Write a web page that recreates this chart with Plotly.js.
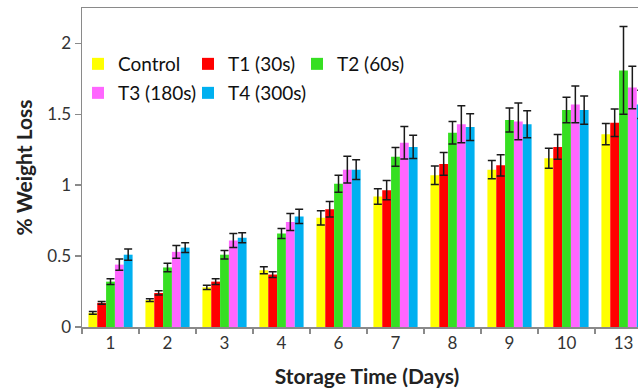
<!DOCTYPE html>
<html>
<head>
<meta charset="utf-8">
<script src="https://cdn.plot.ly/plotly-3.0.1.min.js"></script>
<style>
html, body { margin: 0; padding: 0; overflow: hidden; background: #fff; width: 638px; height: 390px; }
#chart { width: 652px; height: 390px; }
</style>
</head>
<body>
<div id="chart"></div>
<script>
// Categories (storage days)
var days = ['1', '2', '3', '4', '6', '7', '8', '9', '10', '13'];

// Series names
var seriesNames = ['Control', 'T1 (30s)', 'T2 (60s)', 'T3 (180s)', 'T4 (300s)'];

// % weight loss values
var control = [0.10, 0.19, 0.28, 0.40, 0.77, 0.92, 1.07, 1.11, 1.19, 1.36];
var t1      = [0.17, 0.24, 0.32, 0.37, 0.83, 0.965, 1.15, 1.14, 1.27, 1.44];
var t2      = [0.32, 0.42, 0.51, 0.66, 1.01, 1.20, 1.37, 1.46, 1.53, 1.81];
var t3      = [0.44, 0.53, 0.61, 0.74, 1.11, 1.30, 1.43, 1.45, 1.57, 1.69];
var t4      = [0.51, 0.56, 0.63, 0.78, 1.11, 1.27, 1.41, 1.43, 1.53, 1.57];

// Error bar half-widths
var controlErr = [0.01, 0.01, 0.015, 0.025, 0.05, 0.055, 0.065, 0.065, 0.07, 0.075];
var t1Err      = [0.01, 0.015, 0.02, 0.02, 0.055, 0.068, 0.08, 0.075, 0.087, 0.097];
var t2Err      = [0.02, 0.03, 0.03, 0.035, 0.06, 0.066, 0.08, 0.085, 0.09, 0.31];
var t3Err      = [0.04, 0.045, 0.05, 0.06, 0.095, 0.115, 0.13, 0.13, 0.13, 0.15];
var t4Err      = [0.04, 0.035, 0.035, 0.05, 0.07, 0.082, 0.094, 0.095, 0.10, 0.10];

var values = [control, t1, t2, t3, t4];
var errors = [controlErr, t1Err, t2Err, t3Err, t4Err];
var colors = ['#FFFF00', '#FF0000', '#36DF22', '#FF66FF', '#00B0F0'];
var legendIds = ['legend', 'legend2', 'legend3', 'legend4', 'legend5'];

var FONT = 'Lato, "Open Sans", sans-serif';

var traces = values.map(function (v, i) {
  return {
    type: 'bar',
    name: seriesNames[i],
    x: days,
    y: v,
    legend: legendIds[i],
    marker: { color: colors[i], line: { width: 0 } },
    error_y: { type: 'data', array: errors[i], visible: true, color: '#1a1a1a', thickness: 1.5, width: 4 }
  };
});

// plot area: left 82px, width 570px, top 8px, height 319px
function legendAt(px, py) {
  return {
    orientation: 'h',
    xref: 'paper', yref: 'paper',
    xanchor: 'left', yanchor: 'middle',
    x: (px - 82) / 570,
    y: (327 - py) / 319,
    bgcolor: 'rgba(0,0,0,0)',
    borderwidth: 0,
    font: { family: FONT, size: 19, color: '#111' },
    itemclick: false
  };
}

var layout = {
  width: 652,
  height: 390,
  margin: { l: 82, r: 0, t: 8, b: 63 },
  paper_bgcolor: '#fff',
  plot_bgcolor: '#fff',
  barmode: 'group',
  bargap: 0.225,
  bargroupgap: 0,
  showlegend: true,
  legend:  legendAt(78, 64),
  legend2: legendAt(188, 64),
  legend3: legendAt(297, 64),
  legend4: legendAt(78, 93),
  legend5: legendAt(188, 93),
  xaxis: {
    type: 'category',
    showline: true, linecolor: '#8a8a8a', linewidth: 1.5,
    mirror: true,
    ticks: 'outside', tickson: 'boundaries', ticklen: 5, tickcolor: '#8a8a8a', tickwidth: 1.5,
    showgrid: false,
    tickfont: { family: FONT, size: 17, color: '#333' },
    title: { text: '<b>Storage Time (Days)</b>', font: { family: FONT, size: 21, color: '#222' }, standoff: 17 }
  },
  yaxis: {
    range: [0, 2.25],
    tickvals: [0, 0.5, 1, 1.5, 2],
    ticktext: ['0', '0.5', '1', '1.5', '2'],
    showline: true, linecolor: '#8a8a8a', linewidth: 1.5,
    mirror: true,
    ticks: 'outside', ticklen: 6, tickcolor: '#8a8a8a', tickwidth: 1.5,
    showgrid: false, zeroline: false,
    tickfont: { family: FONT, size: 17, color: '#333' },
    title: { text: '<b>% Weight Loss</b>', font: { family: FONT, size: 21, color: '#222' }, standoff: 9 }
  }
};

Plotly.newPlot('chart', traces, layout, { displayModeBar: false, staticPlot: true });
</script>
</body>
</html>
